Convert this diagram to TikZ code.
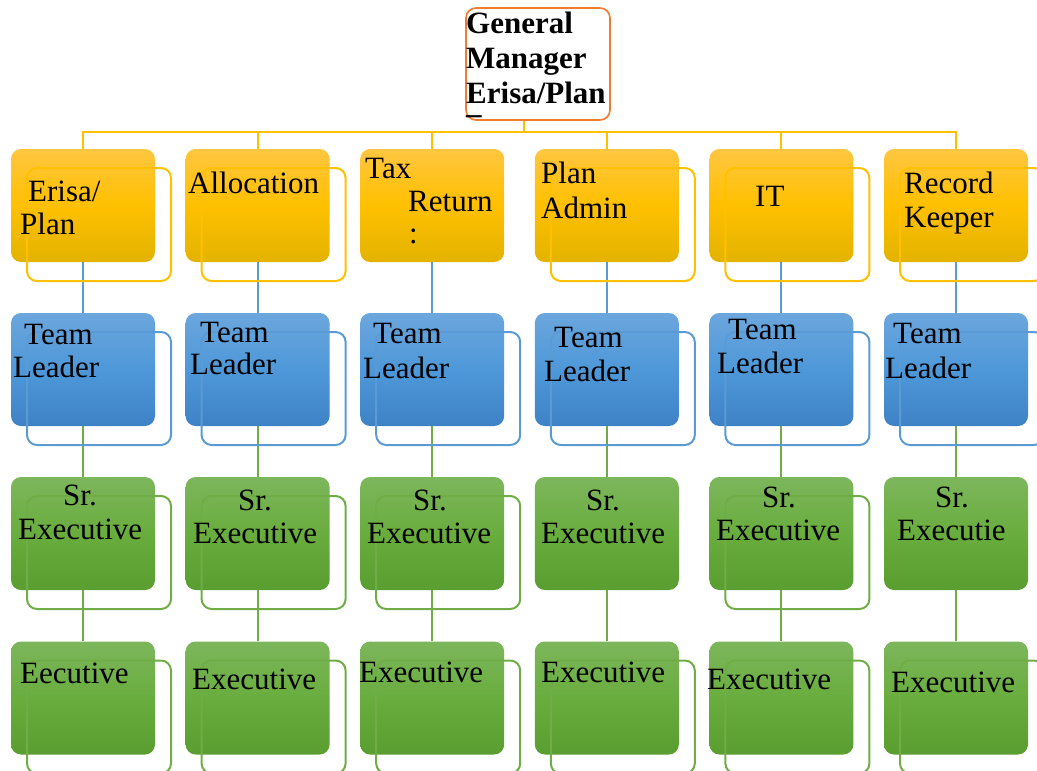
\documentclass[tikz,border=0pt]{standalone}
\usepackage{fontspec}
\setmainfont{Liberation Serif}
\definecolor{goldtop}{HTML}{FFC641}
\definecolor{goldmid}{HTML}{FFC000}
\definecolor{goldbot}{HTML}{E3B300}
\definecolor{goldline}{HTML}{FFC000}
\definecolor{bluetop}{HTML}{6CA6DD}
\definecolor{bluemid}{HTML}{4E98D9}
\definecolor{bluebot}{HTML}{3E82C6}
\definecolor{blueline}{HTML}{5B9BD5}
\definecolor{greentop}{HTML}{7DB65C}
\definecolor{greenmid}{HTML}{69AD3E}
\definecolor{greenbot}{HTML}{5A9D30}
\definecolor{greenline}{HTML}{70AD47}
\definecolor{gmline}{HTML}{ED7D31}
\begin{document}
\begin{tikzpicture}[x=1pt,y=-1pt,
  box/.style={rounded corners=10pt,minimum width=144pt,minimum height=113pt,inner sep=0pt},
  gmbox/.style={box,minimum height=112pt,draw=gmline,line width=1.6pt,fill=white},
  goldbox/.style={box,top color=goldtop,bottom color=goldbot,middle color=goldmid},
  bluebox/.style={box,top color=bluetop,bottom color=bluebot,middle color=bluemid},
  greenbox/.style={box,top color=greentop,bottom color=greenbot,middle color=greenmid},
  goldframe/.style={box,draw=goldline,line width=2pt},
  blueframe/.style={box,draw=blueline,line width=2pt},
  greenframe/.style={box,draw=greenline,line width=2pt},
  goldconn/.style={draw=goldline,line width=2pt},
  blueconn/.style={draw=blueline,line width=2pt},
  greenconn/.style={draw=greenline,line width=2pt},
  lbl/.style={font=\fontsize{31}{34}\selectfont,align=left,inner sep=0pt,anchor=base west},
  gmlbl/.style={lbl,font=\fontsize{31}{35}\selectfont\bfseries}]
\clip (0,0) rectangle (1037,771);

% top box
\node[gmbox] (gm) at (538,64) {};
\coordinate (bus) at (524,132);

% departments
\node[goldbox] (c1a) at (83,205.5) {};
\node[goldbox] (c2a) at (257.6,205.5) {};
\node[goldbox] (c3a) at (432.2,205.5) {};
\node[goldbox] (c4a) at (606.8,205.5) {};
\node[goldbox] (c5a) at (781.4,205.5) {};
\node[goldbox] (c6a) at (956,205.5) {};

% team leaders
\node[bluebox] (c1b) at (83,369.5) {};
\node[bluebox] (c2b) at (257.6,369.5) {};
\node[bluebox] (c3b) at (432.2,369.5) {};
\node[bluebox] (c4b) at (606.8,369.5) {};
\node[bluebox] (c5b) at (781.4,369.5) {};
\node[bluebox] (c6b) at (956,369.5) {};

% senior executives
\node[greenbox] (c1c) at (83,533.5) {};
\node[greenbox] (c2c) at (257.6,533.5) {};
\node[greenbox] (c3c) at (432.2,533.5) {};
\node[greenbox] (c4c) at (606.8,533.5) {};
\node[greenbox] (c5c) at (781.4,533.5) {};
\node[greenbox] (c6c) at (956,533.5) {};

% executives
\node[greenbox] (c1d) at (83,698) {};
\node[greenbox] (c2d) at (257.6,698) {};
\node[greenbox] (c3d) at (432.2,698) {};
\node[greenbox] (c4d) at (606.8,698) {};
\node[greenbox] (c5d) at (781.4,698) {};
\node[greenbox] (c6d) at (956,698) {};

% connectors
\draw[goldconn] (bus |- gm.south) -- (bus);
\draw[goldconn] (c1a.north) |- (bus) -| (c6a.north);
\draw[goldconn] (c2a.north) -- (c2a.north |- bus);
\draw[goldconn] (c3a.north) -- (c3a.north |- bus);
\draw[goldconn] (c4a.north) -- (c4a.north |- bus);
\draw[goldconn] (c5a.north) -- (c5a.north |- bus);
\draw[blueconn] (c1a) -- (c1b);
\draw[blueconn] (c2a) -- (c2b);
\draw[blueconn] (c3a) -- (c3b);
\draw[blueconn] (c4a) -- (c4b);
\draw[blueconn] (c5a) -- (c5b);
\draw[blueconn] (c6a) -- (c6b);
\draw[greenconn] (c1b) -- (c1c) -- (c1d);
\draw[greenconn] (c2b) -- (c2c) -- (c2d);
\draw[greenconn] (c3b) -- (c3c) -- (c3d);
\draw[greenconn] (c4b) -- (c4c) -- (c4d);
\draw[greenconn] (c5b) -- (c5c) -- (c5d);
\draw[greenconn] (c6b) -- (c6c) -- (c6d);

% offset frames
\node[goldframe] (f1a) at ([shift={(16,19)}]c1a) {};
\node[goldframe] (f2a) at ([shift={(16,19)}]c2a) {};
\node[goldframe] (f4a) at ([shift={(16,19)}]c4a) {};
\node[goldframe] (f5a) at ([shift={(16,19)}]c5a) {};
\node[goldframe] (f6a) at ([shift={(16,19)}]c6a) {};
\node[blueframe] (f1b) at ([shift={(16,19)}]c1b) {};
\node[blueframe] (f2b) at ([shift={(16,19)}]c2b) {};
\node[blueframe] (f3b) at ([shift={(16,19)}]c3b) {};
\node[blueframe] (f4b) at ([shift={(16,19)}]c4b) {};
\node[blueframe] (f5b) at ([shift={(16,19)}]c5b) {};
\node[blueframe] (f6b) at ([shift={(16,19)}]c6b) {};
\node[greenframe] (f1c) at ([shift={(16,19)}]c1c) {};
\node[greenframe] (f2c) at ([shift={(16,19)}]c2c) {};
\node[greenframe] (f3c) at ([shift={(16,19)}]c3c) {};
\node[greenframe] (f5c) at ([shift={(16,19)}]c5c) {};
\node[greenframe] (f1d) at ([shift={(16,19)}]c1d) {};
\node[greenframe] (f2d) at ([shift={(16,19)}]c2d) {};
\node[greenframe] (f3d) at ([shift={(16,19)}]c3d) {};
\node[greenframe] (f4d) at ([shift={(16,19)}]c4d) {};
\node[greenframe] (f5d) at ([shift={(16,19)}]c5d) {};
\node[greenframe] (f6d) at ([shift={(16,19)}]c6d) {};

% labels (placed at the baseline of their last line)
\node[gmlbl] (gmt) at (466,113) {General\\Manager\\Erisa/Plan\\[-25pt]\_};
\node[lbl] (l1a) at (20,234) {\hspace*{8pt}Erisa/\\[-1pt]Plan};
\node[lbl] (l2a) at (188,193) {Allocation};
\node[lbl] (l3a) at (365,243) {Tax\\[-1pt]\hspace*{43pt}Return\\[-2pt]\hspace*{44pt}:};
\node[lbl] (l4a) at (541,218) {Plan\\[1pt]Admin};
\node[lbl] (l5a) at (755,206) {IT};
\node[lbl] (l6a) at (904,227) {Record\\Keeper};
\node[lbl] (l1b) at (13,377) {\hspace*{11pt}Team\\[-1pt]Leader};
\node[lbl] (l2b) at (190,374) {\hspace*{10pt}Team\\[-2pt]Leader};
\node[lbl] (l3b) at (363,378) {\hspace*{10pt}Team\\[1pt]Leader};
\node[lbl] (l4b) at (544,381) {\hspace*{10pt}Team\\Leader};
\node[lbl] (l5b) at (717,373) {\hspace*{11pt}Team\\Leader};
\node[lbl] (l6b) at (885,378) {\hspace*{8pt}Team\\[1pt]Leader};
\node[lbl] (l1c) at (18,539) {\hspace*{45pt}Sr.\\Executive};
\node[lbl] (l2c) at (193,543) {\hspace*{45pt}Sr.\\[-1pt]Executive};
\node[lbl] (l3c) at (367,543) {\hspace*{46pt}Sr.\\[-1pt]Executive};
\node[lbl] (l4c) at (541,543) {\hspace*{45pt}Sr.\\[-1pt]Executive};
\node[lbl] (l5c) at (716,540) {\hspace*{46pt}Sr.\\[-1pt]Executive};
\node[lbl] (l6c) at (897,540) {\hspace*{38pt}Sr.\\[-1pt]Executie};
\node[lbl] (l1d) at (20,683) {Eecutive};
\node[lbl] (l2d) at (192,689) {Executive};
\node[lbl] (l3d) at (359,682) {Executive};
\node[lbl] (l4d) at (541,682) {Executive};
\node[lbl] (l5d) at (707,689) {Executive};
\node[lbl] (l6d) at (891,692) {Executive};
\end{tikzpicture}
\end{document}
